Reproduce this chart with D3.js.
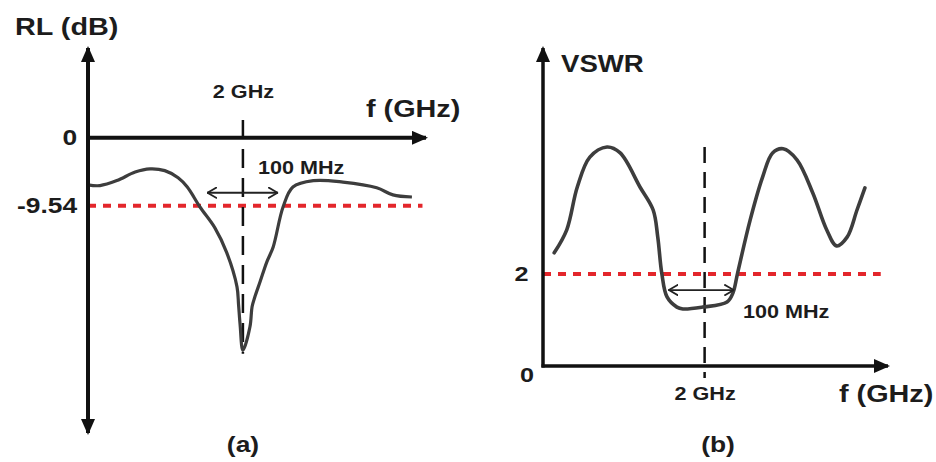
<!DOCTYPE html>
<html>
<head>
<meta charset="utf-8">
<script src="https://cdn.jsdelivr.net/npm/d3@7"></script>
<style>
body { margin: 0; background: #fff; }
svg { display: block; }
text { font-family: "Liberation Sans", Arial, sans-serif; font-weight: bold; fill: #1c1c1c; }
</style>
</head>
<body>
<svg id="fig" width="936" height="462"></svg>
<script>
// panel (a): return loss vs frequency
var freqA = [1.780, 1.797, 1.821, 1.847, 1.868, 1.889, 1.908, 1.921, 1.939, 1.960, 1.977, 1.9916, 1.9938, 1.996, 2.000,
             2.010, 2.013, 2.017, 2.024, 2.034, 2.043, 2.057, 2.071, 2.100, 2.142, 2.190, 2.213, 2.240];
var rlA   = [-6.6, -6.7, -6.0, -4.8, -4.35, -4.6, -5.6, -6.9, -9.7, -12.6, -16.1, -20.9, -23.4, -26.2, -29.8,
             -26.5, -23.7, -22.3, -20.3, -17.4, -15.3, -9.7, -6.9, -6.0, -6.2, -7.0, -8.0, -8.3];
var ticksA = [0, -9.54];
var rlLimit = -9.54;

// panel (b): VSWR vs frequency
var freqB = [1.772, 1.791, 1.807, 1.826, 1.852, 1.872, 1.902, 1.922, 1.929, 1.935, 1.943, 1.958, 1.967, 1.997,
             2.034, 2.043, 2.050, 2.069, 2.088, 2.103, 2.119, 2.140, 2.164, 2.185, 2.200, 2.216, 2.231, 2.243];
var vswrB = [2.46, 2.96, 3.89, 4.54, 4.76, 4.63, 3.89, 3.39, 2.80, 2.02, 1.50, 1.28, 1.24, 1.28,
             1.39, 1.59, 2.02, 3.17, 4.11, 4.63, 4.72, 4.48, 3.76, 2.96, 2.61, 2.80, 3.39, 3.87];
var ticksB = [2];
var vswrLimit = 2;

var centerFreq = 2;          // GHz
var bandA = [1.949, 2.050];  // 100 MHz span, panel a
var bandB = [1.945, 2.045];  // 100 MHz span, panel b

var svg = d3.select("#fig");

var defs = svg.append("defs");
defs.append("marker")
  .attr("id", "head")
  .attr("viewBox", "0 0 16 14")
  .attr("refX", 14).attr("refY", 7)
  .attr("markerUnits", "userSpaceOnUse")
  .attr("markerWidth", 16).attr("markerHeight", 14)
  .attr("orient", "auto-start-reverse")
  .append("path").attr("d", "M0,0L16,7L0,14z").attr("fill", "#111");
defs.append("marker")
  .attr("id", "vee")
  .attr("viewBox", "0 0 10 12")
  .attr("refX", 10).attr("refY", 6)
  .attr("markerUnits", "userSpaceOnUse")
  .attr("markerWidth", 10).attr("markerHeight", 12)
  .attr("orient", "auto-start-reverse")
  .append("path").attr("d", "M0,0.5L9.5,6L0,11.5")
  .attr("fill", "none").attr("stroke", "#222").attr("stroke-width", 1.8);

var label = function(txt, x, y, size, anchor) {
  svg.append("text")
    .attr("transform", "translate(" + x + "," + y + ") scale(1.2,1)")
    .attr("text-anchor", anchor || "start")
    .style("font-size", size + "px")
    .text(txt);
};

// plain hyphen, as in the figure
var fmt = function(d) { return String(d); };

// ---------- panel (a)
var xA = d3.scaleLinear().domain([1.78, 2.26]).range([88, 426]);
var yA = d3.scaleLinear().domain([12.6, -41.4]).range([48, 433]);

var lineA = d3.line()
  .x(function(d) { return xA(d[0]); })
  .y(function(d) { return yA(d[1]); })
  .curve(d3.curveCatmullRom.alpha(0.5));

svg.append("line")
  .attr("x1", xA(1.78)).attr("x2", xA(2.255))
  .attr("y1", yA(rlLimit)).attr("y2", yA(rlLimit))
  .attr("stroke", "#e3262b").attr("stroke-width", 4)
  .attr("stroke-dasharray", "8,7");

svg.append("line")
  .attr("x1", xA(centerFreq)).attr("x2", xA(centerFreq))
  .attr("y1", yA(2.5)).attr("y2", yA(-30.3))
  .attr("stroke", "#111").attr("stroke-width", 2.5)
  .attr("stroke-dasharray", "19,10");

svg.append("path")
  .datum(d3.zip(freqA, rlA))
  .attr("d", lineA)
  .attr("fill", "none").attr("stroke", "#3d3d3d").attr("stroke-width", 3.2)
  .attr("stroke-linejoin", "round");

// axes with arrows
svg.append("line")
  .attr("x1", xA(1.78)).attr("x2", xA(1.78))
  .attr("y1", yA(-41.4)).attr("y2", yA(12.6))
  .attr("stroke", "#111").attr("stroke-width", 4)
  .attr("marker-start", "url(#head)").attr("marker-end", "url(#head)");
svg.append("line")
  .attr("x1", xA(1.78)).attr("x2", xA(2.26))
  .attr("y1", yA(0)).attr("y2", yA(0))
  .attr("stroke", "#111").attr("stroke-width", 4)
  .attr("marker-end", "url(#head)");

var axA = svg.append("g").attr("transform", "translate(" + xA(1.78) + ",0)")
  .call(d3.axisLeft(yA).tickValues(ticksA).tickSize(0).tickPadding(9).tickFormat(fmt));
axA.select(".domain").remove();
axA.selectAll("text").attr("transform", "scale(1.2,1)")
  .style("font-size", "22px").style("font-family", null);

var topA = svg.append("g").attr("transform", "translate(0," + yA(0) + ")")
  .call(d3.axisTop(xA).tickValues([centerFreq]).tickSize(0).tickPadding(40)
    .tickFormat(function(d) { return d + " GHz"; }));
topA.select(".domain").remove();
topA.selectAll("text").attr("transform", "scale(1.2,1)")
  .style("font-size", "18px").style("font-family", null);

svg.append("line")
  .attr("x1", xA(bandA[0])).attr("x2", xA(bandA[1]))
  .attr("y1", yA(-7.7)).attr("y2", yA(-7.7))
  .attr("stroke", "#222").attr("stroke-width", 1.8)
  .attr("marker-start", "url(#vee)").attr("marker-end", "url(#vee)");

label("RL (dB)", 15, 35, 24);
label("f (GHz)", 366, 117, 24);
label("100 MHz", 258, 174, 18);
label("(a)", 243, 452, 22, "middle");

// ---------- panel (b)
var xB = d3.scaleLinear().domain([1.755, 2.278]).range([543, 888]);
var yB = d3.scaleLinear().domain([0, 6.91]).range([366, 48]);

var lineB = d3.line()
  .x(function(d) { return xB(d[0]); })
  .y(function(d) { return yB(d[1]); })
  .curve(d3.curveCatmullRom.alpha(0.5));

svg.append("line")
  .attr("x1", xB(1.755)).attr("x2", xB(2.267))
  .attr("y1", yB(vswrLimit)).attr("y2", yB(vswrLimit))
  .attr("stroke", "#e3262b").attr("stroke-width", 4)
  .attr("stroke-dasharray", "8,7");

svg.append("line")
  .attr("x1", xB(centerFreq)).attr("x2", xB(centerFreq))
  .attr("y1", yB(4.76)).attr("y2", yB(-0.26))
  .attr("stroke", "#111").attr("stroke-width", 2.5)
  .attr("stroke-dasharray", "16,9");

svg.append("path")
  .datum(d3.zip(freqB, vswrB))
  .attr("d", lineB)
  .attr("fill", "none").attr("stroke", "#3d3d3d").attr("stroke-width", 3.6)
  .attr("stroke-linejoin", "round").attr("stroke-linecap", "round");

svg.append("line")
  .attr("x1", xB(1.755)).attr("x2", xB(1.755))
  .attr("y1", yB(0) + 1.5).attr("y2", yB(6.91))
  .attr("stroke", "#111").attr("stroke-width", 3.5)
  .attr("marker-end", "url(#head)");
svg.append("line")
  .attr("x1", xB(1.755) - 1.5).attr("x2", xB(2.278))
  .attr("y1", yB(0)).attr("y2", yB(0))
  .attr("stroke", "#111").attr("stroke-width", 3.5)
  .attr("marker-end", "url(#head)");

var axB = svg.append("g").attr("transform", "translate(" + xB(1.755) + ",0)")
  .call(d3.axisLeft(yB).tickValues(ticksB).tickSize(0).tickPadding(12).tickFormat(fmt));
axB.select(".domain").remove();
axB.selectAll("text").attr("transform", "scale(1.2,1)")
  .style("font-size", "21px").style("font-family", null);

var botB = svg.append("g").attr("transform", "translate(0," + yB(0) + ")")
  .call(d3.axisBottom(xB).tickValues([centerFreq]).tickSize(0).tickPadding(21)
    .tickFormat(function(d) { return d + " GHz"; }));
botB.select(".domain").remove();
botB.selectAll("text").attr("transform", "scale(1.2,1)")
  .style("font-size", "18px").style("font-family", null);

svg.append("line")
  .attr("x1", xB(bandB[0])).attr("x2", xB(bandB[1]))
  .attr("y1", yB(1.65)).attr("y2", yB(1.65))
  .attr("stroke", "#222").attr("stroke-width", 1.8)
  .attr("marker-start", "url(#vee)").attr("marker-end", "url(#vee)");

label("0", 534, 382, 21, "end");
label("VSWR", 561, 72, 23);
label("f (GHz)", 839, 402, 24);
label("100 MHz", 743, 318, 18);
label("(b)", 718, 452, 22, "middle");
</script>
</body>
</html>
